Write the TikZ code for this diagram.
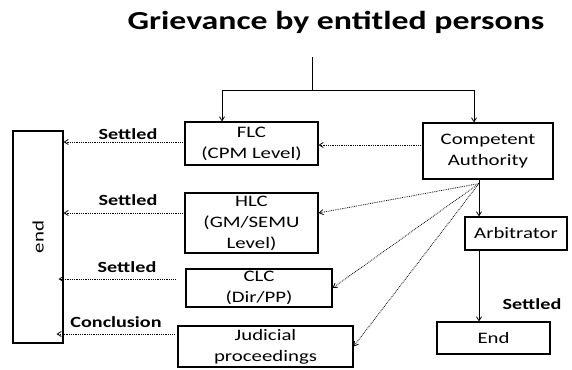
\documentclass[tikz,border=0pt]{standalone}
\usepackage{fontspec}
\setmainfont{Carlito}[FakeStretch=1.3]
\usetikzlibrary{arrows.meta}
\begin{document}
\begin{tikzpicture}[x=1pt,y=-1pt,
  box/.style 2 args={draw, line width=1.1pt, align=center, inner sep=0pt,
    minimum width=#1, minimum height=#2,
    font=\fontsize{16}{21}\selectfont},
  lbl/.style={font=\bfseries\fontsize{15.5}{18}\selectfont, anchor=base},
  link/.style={line width=0.8pt, -{Straight Barb[length=4pt,width=5pt]}},
  soft/.style={link, densely dotted}]
\useasboundingbox (0,0) rectangle (572,369);

% title
\node[font=\bfseries\fontsize{26}{30}\selectfont, anchor=base] (title) at (336,30)
  {Grievance by entitled persons};

% boxes
\node[box={133pt}{43pt}] (flc) at (251.5,143.5) {FLC\\(CPM Level)};
\node[box={133pt}{60pt}] (hlc) at (251.5,223) {HLC\\(GM/SEMU\\Level)};
\node[box={146pt}{38pt}] (clc) at (259,288) {CLC\\(Dir/PP)};
\node[box={175pt}{41pt}] (jud) at (265.5,346.5) {Judicial\\proceedings};
\node[box={130pt}{56pt}] (ca) at (488,151) {Competent\\Authority};
\node[box={102pt}{33pt}] (arb) at (516,233.5) {Arbitrator};
\node[box={113pt}{32pt}] (endr) at (493.5,338) {End};
\node[box={50pt}{212pt}] (endl) at (38,237) {\rotatebox{90}{end}};

% split from the title
\coordinate (top) at (312,57);
\coordinate (split) at (312,90);
\draw[line width=1pt] (top) -- (split);
\draw[link] (split) -| ([xshift=-29.5pt]flc.north);
\draw[link] (split) -| ([xshift=-14pt]ca.north);

% competent authority to arbitrator to end
\coordinate (cab) at ([xshift=-9pt]ca.south);
\draw[link] (cab) -- (cab |- arb.north);
\draw[link] (cab |- arb.south) -- (cab |- endr.north);

% competent authority to the committees and courts
\coordinate (fan) at ([yshift=-4pt]cab);
\draw[soft] ([yshift=6pt]ca.west) -- ([yshift=6pt]ca.west -| flc.east);
\draw[soft] (fan) -- ([yshift=10pt]hlc.east);
\draw[soft] (fan) -- (clc.east);
\draw[soft] (fan) -- (jud.east);

% outcomes to the end box
\draw[soft] ([yshift=1.5pt]flc.west) -- ([yshift=1.5pt]flc.west -| endl.east);
\draw[soft] ([yshift=10pt]hlc.west) -- ([yshift=10pt]hlc.west -| endl.east);
\coordinate (clcout) at ([xshift=-10pt,yshift=9pt]clc.west);
\draw[soft] (clcout) -- ([xshift=-5pt]clcout -| endl.east);
\coordinate (judout) at ([xshift=-3pt,yshift=12.5pt]jud.west);
\draw[soft] (judout) -- ([xshift=-7pt]judout -| endl.east);

% labels
\node[lbl] (s1) at (128,139) {Settled};
\node[lbl] (s2) at (128,205) {Settled};
\node[lbl] (s3) at (127,272) {Settled};
\node[lbl] (s4) at (116,327) {Conclusion};
\node[lbl] (s5) at (532,309) {Settled};
\end{tikzpicture}
\end{document}
